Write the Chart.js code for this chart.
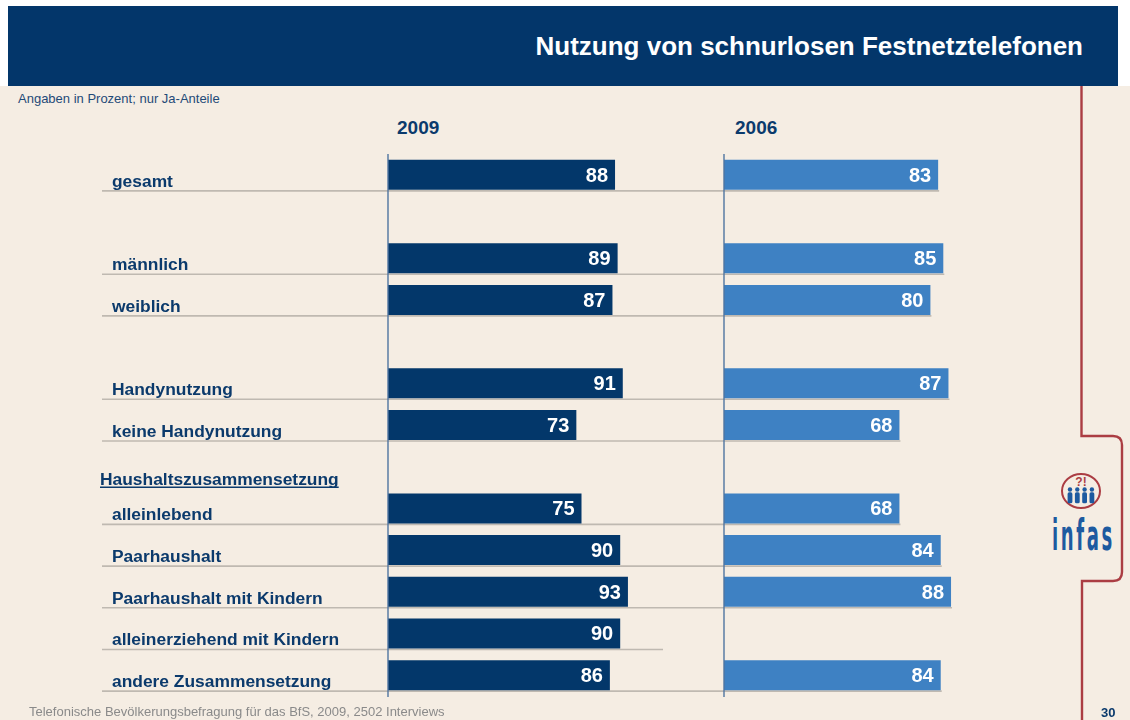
<!DOCTYPE html>
<html lang="de">
<head>
<meta charset="utf-8">
<title>Nutzung von schnurlosen Festnetztelefonen</title>
<script src="https://cdn.jsdelivr.net/npm/chart.js@4.4.1/dist/chart.umd.min.js"></script>
<style>
  html, body { margin: 0; padding: 0; background: #ffffff; }
  body { width: 1130px; height: 720px; position: relative; overflow: hidden;
         font-family: "Liberation Sans", Arial, Helvetica, sans-serif; }
  #paper { position: absolute; left: 0; top: 86px; width: 1130px; height: 634px; background: #f5ede3; }
  #band  { position: absolute; left: 8px; top: 6px; width: 1110px; height: 80px; background: #03366a; }
  #title { position: absolute; right: 47px; top: 33px; font-size: 26px; line-height: 26px;
           font-weight: bold; color: #ffffff; white-space: nowrap; }
  #note  { position: absolute; left: 18px; top: 92px; font-size: 13px; line-height: 13px;
           color: #1f4a78; white-space: nowrap; }
  .year  { position: absolute; top: 118px; font-size: 19px; line-height: 19px; font-weight: bold;
           color: #0b3a6c; }
  #source { position: absolute; left: 29px; top: 705px; font-size: 13px; line-height: 13px;
            color: #8a8a8a; white-space: nowrap; }
  #page  { position: absolute; left: 1101px; top: 706px; font-size: 13px; line-height: 13px;
           font-weight: bold; color: #0b3a6c; }
  #brand { position: absolute; left: 1052px; top: 511px; white-space: nowrap;
           font-family: "DejaVu Sans", sans-serif; font-size: 42px; line-height: 50px; font-weight: bold;
           letter-spacing: 6px; color: #1d5aa0; transform: scaleX(0.43); transform-origin: 0 0; }
  canvas { position: absolute; left: 0; top: 0; }
  svg    { position: absolute; left: 0; top: 0; }
</style>
</head>
<body>
<div id="paper"></div>
<div id="band"></div>
<div id="title">Nutzung von schnurlosen Festnetztelefonen</div>
<div id="note">Angaben in Prozent; nur Ja-Anteile</div>
<div class="year" id="yearA" style="left:397px"></div>
<div class="year" id="yearB" style="left:735px"></div>

<svg width="1130" height="720" viewBox="0 0 1130 720">
  <path d="M1081.5 86 V436 H1113 Q1122 436 1122 445 V572 Q1122 581 1113 581 H1082 V720"
        fill="none" stroke="#ab3d43" stroke-width="2.4"/>
  <!-- infas emblem -->
  <ellipse cx="1081" cy="491" rx="19" ry="17" fill="none" stroke="#ab3d43" stroke-width="2"/>
  <g fill="#1d5aa0">
    <circle cx="1070" cy="489.5" r="2.2"/><rect x="1067.6" y="492.3" width="4.8" height="11" rx="1.6"/>
    <circle cx="1077.3" cy="489.5" r="2.2"/><rect x="1074.9" y="492.3" width="4.8" height="11" rx="1.6"/>
    <circle cx="1084.6" cy="489.5" r="2.2"/><rect x="1082.2" y="492.3" width="4.8" height="11" rx="1.6"/>
    <circle cx="1091.9" cy="489.5" r="2.2"/><rect x="1089.5" y="492.3" width="4.8" height="11" rx="1.6"/>
  </g>
  <text x="1081" y="486" text-anchor="middle" font-family="Liberation Sans, Arial, sans-serif"
        font-size="12" font-weight="bold" fill="#ab3d43">?!</text>
</svg>
<div id="brand">infas</div>

<canvas id="chart" width="1130" height="720"></canvas>
<div id="source">Telefonische Bevölkerungsbefragung für das BfS, 2009, 2502 Interviews</div>
<div id="page">30</div>

<script>
// Row labels, top to bottom; empty strings are spacer rows between the groups.
const categories = [
  'gesamt', '',
  'männlich', 'weiblich', '',
  'Handynutzung', 'keine Handynutzung', '',
  'alleinlebend', 'Paarhaushalt', 'Paarhaushalt mit Kindern',
  'alleinerziehend mit Kindern', 'andere Zusammensetzung'
];
// Heading shown in the spacer row above the household rows.
const householdHeading = 'Haushaltszusammensetzung';
const householdHeadingRow = 7;

// Share of "yes" answers in percent (null = no bar).
const values2009 = [88, null, 89, 87, null, 91, 73, null, 75, 90, 93, 90, 86];
const values2006 = [83, null, 85, 80, null, 87, 68, null, 68, 84, 88, null, 84];
const surveyYears = ['2009', '2006'];

document.getElementById('yearA').textContent = surveyYears[0];
document.getElementById('yearB').textContent = surveyYears[1];

// Geometry of the two side-by-side panels (shared percent scale).
const PX_PER_PCT = 2.58;
const AREA_LEFT = 388;
const AREA_RIGHT = 1000;
const ZERO_SECOND = 724;
const LABEL_LEFT = 112;
const RULE_LEFT = 102;
const RULE_END_EMPTY = 663;
const spanPct = (AREA_RIGHT - AREA_LEFT) / PX_PER_PCT;
const secondMin = -(ZERO_SECOND - AREA_LEFT) / PX_PER_PCT;

const FONT = '"Liberation Sans", Arial, Helvetica, sans-serif';
const NAVY = '#0b3a6c';

const panelDecor = {
  id: 'panelDecor',
  beforeDatasetsDraw(chart) {
    const { ctx, scales: { y, x2 } } = chart;
    ctx.save();
    // thin rules under each labelled row
    ctx.strokeStyle = '#bfb9b1';
    ctx.lineWidth = 1.6;
    categories.forEach((c, i) => {
      if (!c) return;
      const yy = y.getPixelForValue(i) + 16;
      const v = values2006[i];
      const end = v != null ? x2.getPixelForValue(v) + 1 : RULE_END_EMPTY;
      ctx.beginPath();
      ctx.moveTo(RULE_LEFT, yy);
      ctx.lineTo(end, yy);
      ctx.stroke();
    });
    // underlined group heading
    ctx.font = 'bold 17.4px ' + FONT;
    ctx.fillStyle = NAVY;
    ctx.textAlign = 'left';
    ctx.textBaseline = 'alphabetic';
    const hy = y.getPixelForValue(householdHeadingRow) + 18;
    ctx.fillText(householdHeading, 100, hy);
    const w = ctx.measureText(householdHeading).width;
    ctx.strokeStyle = NAVY;
    ctx.lineWidth = 1.5;
    ctx.beginPath();
    ctx.moveTo(100, hy + 2.5);
    ctx.lineTo(100 + w, hy + 2.5);
    ctx.stroke();
    ctx.restore();
  },
  afterDatasetsDraw(chart) {
    const { ctx, chartArea, scales: { x, x2 } } = chart;
    ctx.save();
    // baseline of each panel
    ctx.strokeStyle = '#4f74a0';
    ctx.lineWidth = 1.4;
    [x.getPixelForValue(0), x2.getPixelForValue(0)].forEach(px => {
      ctx.beginPath();
      ctx.moveTo(px, chartArea.top);
      ctx.lineTo(px, chartArea.bottom + 1);
      ctx.stroke();
    });
    // values inside the bar ends
    ctx.font = 'bold 20px ' + FONT;
    ctx.fillStyle = '#ffffff';
    ctx.textAlign = 'right';
    ctx.textBaseline = 'alphabetic';
    chart.data.datasets.forEach((ds, di) => {
      chart.getDatasetMeta(di).data.forEach((bar, i) => {
        const v = ds.data[i];
        if (v == null) return;
        ctx.fillText(String(v), bar.x - 7, bar.y + 7);
      });
    });
    ctx.restore();
  }
};

new Chart(document.getElementById('chart'), {
  type: 'bar',
  data: {
    labels: categories,
    datasets: [
      { label: surveyYears[0], data: values2009, xAxisID: 'x', backgroundColor: '#03376a',
        grouped: false, barPercentage: 0.72, categoryPercentage: 1 },
      { label: surveyYears[1], data: values2006, xAxisID: 'x2', backgroundColor: '#3e81c3',
        grouped: false, barPercentage: 0.72, categoryPercentage: 1 }
    ]
  },
  options: {
    indexAxis: 'y',
    responsive: false,
    animation: false,
    devicePixelRatio: 1,
    layout: { padding: { left: LABEL_LEFT, top: 154, right: 1130 - AREA_RIGHT, bottom: 24 } },
    plugins: { legend: { display: false }, tooltip: { enabled: false } },
    scales: {
      y: {
        position: 'left',
        grid: { display: false },
        border: { display: false },
        ticks: {
          autoSkip: false,
          crossAlign: 'far',
          labelOffset: 7,
          padding: 0,
          color: NAVY,
          font: { family: FONT, size: 17.4, weight: 'bold' }
        },
        afterFit(scale) { scale.width = AREA_LEFT - LABEL_LEFT; }
      },
      x:  { display: false, min: 0, max: spanPct },
      x2: { display: false, min: secondMin, max: secondMin + spanPct }
    }
  },
  plugins: [panelDecor]
});
</script>
</body>
</html>
